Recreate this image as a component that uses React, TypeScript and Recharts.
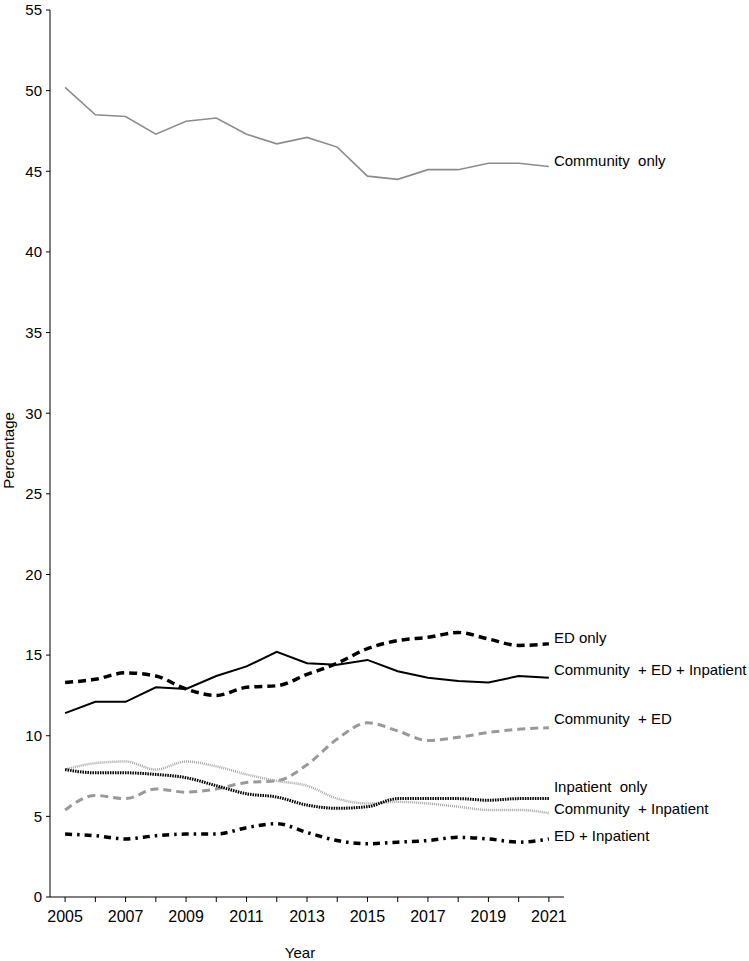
import { LabelList, Line, LineChart, XAxis, YAxis } from "recharts";

const years = [2005, 2006, 2007, 2008, 2009, 2010, 2011, 2012, 2013, 2014, 2015, 2016, 2017, 2018, 2019, 2020, 2021];
const yearTicks = [2005, 2007, 2009, 2011, 2013, 2015, 2017, 2019, 2021];
const percentTicks = [0, 5, 10, 15, 20, 25, 30, 35, 40, 45, 50, 55];

const communityOnly = [50.2, 48.5, 48.4, 47.3, 48.1, 48.3, 47.3, 46.7, 47.1, 46.5, 44.7, 44.5, 45.1, 45.1, 45.5, 45.5, 45.3];
const edOnly = [13.3, 13.5, 13.9, 13.7, 12.9, 12.5, 13.0, 13.1, 13.8, 14.5, 15.4, 15.9, 16.1, 16.4, 16.0, 15.6, 15.7];
const communityEdInpatient = [11.4, 12.1, 12.1, 13.0, 12.9, 13.7, 14.3, 15.2, 14.5, 14.4, 14.7, 14.0, 13.6, 13.4, 13.3, 13.7, 13.6];
const communityEd = [5.4, 6.3, 6.1, 6.7, 6.5, 6.7, 7.1, 7.2, 8.2, 9.8, 10.8, 10.3, 9.7, 9.9, 10.2, 10.4, 10.5];
const inpatientOnly = [7.9, 7.7, 7.7, 7.6, 7.4, 6.9, 6.4, 6.2, 5.7, 5.5, 5.6, 6.1, 6.1, 6.1, 6.0, 6.1, 6.1];
const communityInpatient = [7.9, 8.3, 8.4, 7.9, 8.4, 8.1, 7.6, 7.2, 6.9, 6.1, 5.8, 5.9, 5.8, 5.6, 5.4, 5.4, 5.2];
const edInpatient = [3.9, 3.8, 3.6, 3.8, 3.9, 3.9, 4.3, 4.55, 4.0, 3.5, 3.3, 3.4, 3.5, 3.7, 3.6, 3.4, 3.6];

const data = years.map((year, i) => ({
  year,
  communityOnly: communityOnly[i],
  edOnly: edOnly[i],
  communityEdInpatient: communityEdInpatient[i],
  communityEd: communityEd[i],
  inpatientOnly: inpatientOnly[i],
  communityInpatient: communityInpatient[i],
  edInpatient: edInpatient[i],
}));

const font = "'Liberation Sans', Arial, sans-serif";
const last = years.length - 1;

// text next to the final point of each series
const endLabel = (text: string, dy: number) => (props: any) => {
  if (props.index !== last) return null;
  return (
    <text
      x={props.x + 5}
      y={props.y + dy}
      fontSize={15}
      fontFamily={font}
      fill="#000"
      dominantBaseline="central"
      style={{ whiteSpace: "pre" }}
    >
      {text}
    </text>
  );
};

const YTitle = ({ viewBox }: any) => {
  const x = viewBox.x + 8;
  const y = viewBox.y + viewBox.height / 2 - 3;
  return (
    <text
      x={x}
      y={y}
      transform={`rotate(-90, ${x}, ${y})`}
      textAnchor="middle"
      dominantBaseline="central"
      fontSize={15}
      fontFamily={font}
      fill="#000"
    >
      Percentage
    </text>
  );
};

const XTitle = ({ viewBox }: any) => (
  <text
    x={viewBox.x + viewBox.width / 2 - 7}
    y={952}
    textAnchor="middle"
    dominantBaseline="central"
    fontSize={15}
    fontFamily={font}
    fill="#000"
  >
    Year
  </text>
);

export default function App() {
  return (
    <div style={{ position: "absolute", left: 0, top: 0, background: "#fff" }}>
      <LineChart
        width={749}
        height={961}
        data={data}
        margin={{ top: 10, right: 185, left: 0, bottom: 0 }}
        style={{ fontFamily: font }}
      >
        <XAxis
          dataKey="year"
          type="number"
          domain={[2004.5, 2021.5]}
          ticks={years}
          interval={0}
          tickFormatter={(v: number) => (yearTicks.includes(v) ? String(v) : "")}
          height={64}
          tickSize={5}
          tickMargin={9}
          stroke="#000"
          tick={{ fill: "#000", fontSize: 16 }}
          label={<XTitle />}
        />
        <YAxis
          domain={[0, 55]}
          ticks={percentTicks}
          interval={0}
          width={50}
          tickSize={4}
          tickMargin={4}
          stroke="#000"
          tick={{ fill: "#000", fontSize: 15 }}
          label={<YTitle />}
        />
        <Line
          dataKey="communityOnly"
          stroke="#8c8c8c"
          strokeWidth={1.6}
          dot={false}
          isAnimationActive={false}
        >
          <LabelList dataKey="communityOnly" content={endLabel("Community  only", -6)} />
        </Line>
        <Line
          dataKey="communityEd"
          type="monotone"
          stroke="#999999"
          strokeWidth={3}
          strokeDasharray="8 5"
          dot={false}
          isAnimationActive={false}
        >
          <LabelList dataKey="communityEd" content={endLabel("Community  + ED", -9)} />
        </Line>
        <Line
          dataKey="communityInpatient"
          type="monotone"
          stroke="#a6a6a6"
          strokeWidth={2.5}
          strokeDasharray="1 1"
          dot={false}
          isAnimationActive={false}
        >
          <LabelList dataKey="communityInpatient" content={endLabel("Community  + Inpatient", -5)} />
        </Line>
        <Line
          dataKey="communityEdInpatient"
          stroke="#000"
          strokeWidth={2}
          dot={false}
          isAnimationActive={false}
        >
          <LabelList dataKey="communityEdInpatient" content={endLabel("Community  + ED + Inpatient", -8)} />
        </Line>
        <Line
          dataKey="edOnly"
          type="monotone"
          stroke="#000"
          strokeWidth={3.5}
          strokeDasharray="8 5"
          dot={false}
          isAnimationActive={false}
        >
          <LabelList dataKey="edOnly" content={endLabel("ED only", -6)} />
        </Line>
        <Line
          dataKey="inpatientOnly"
          type="monotone"
          stroke="#000"
          strokeWidth={3}
          strokeDasharray="1.5 1"
          dot={false}
          isAnimationActive={false}
        >
          <LabelList dataKey="inpatientOnly" content={endLabel("Inpatient  only", -12)} />
        </Line>
        <Line
          dataKey="edInpatient"
          type="monotone"
          stroke="#000"
          strokeWidth={3.5}
          strokeDasharray="7 5 2.5 5"
          dot={false}
          isAnimationActive={false}
        >
          <LabelList dataKey="edInpatient" content={endLabel("ED + Inpatient", -3)} />
        </Line>
      </LineChart>
    </div>
  );
}
